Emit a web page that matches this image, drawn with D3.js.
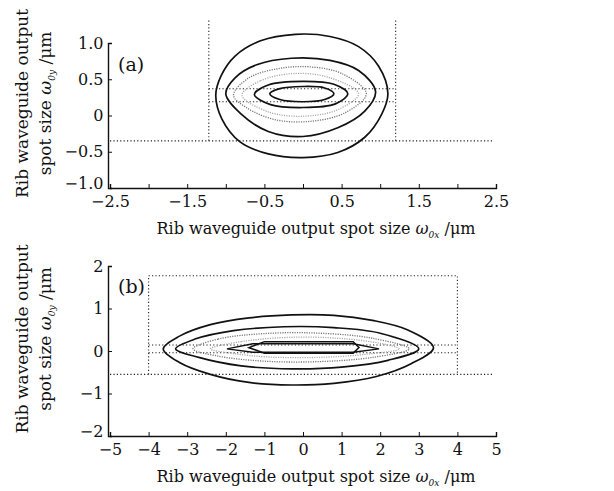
<!DOCTYPE html>
<html>
<head>
<meta charset="utf-8">
<script src="https://cdn.jsdelivr.net/npm/d3@7"></script>
<style>
body{margin:0;background:#fff;}
text{font-family:"DejaVu Serif",serif;fill:#111;}
</style>
</head>
<body>
<script>
// tick values
var xTicksA = [-2.5,-2,-1.5,-1,-0.5,0,0.5,1,1.5,2,2.5];
var xLabelsA = [-2.5,-1.5,-0.5,0.5,1.5,2.5];
var yTicksA = [-1,-0.5,0,0.5,1];
var xTicksB = [-5,-4,-3,-2,-1,0,1,2,3,4,5];
var yTicksB = [-2,-1,0,1,2];

// contour lines, panel (a)
var a1 = [[-1.13,0.28],[-1.06,0.55],[-0.88,0.82],[-0.55,1.03],[-0.1,1.12],[0.35,1.09],[0.72,0.95],[0.98,0.68],[1.10,0.30],[1.02,0.02],[0.80,-0.30],[0.45,-0.51],[0.0,-0.58],[-0.45,-0.53],[-0.82,-0.36],[-1.05,-0.05]];
var a2 = [[-1.0,0.3],[-0.88,0.52],[-0.6,0.7],[-0.15,0.79],[0.35,0.76],[0.72,0.62],[0.94,0.33],[0.8,0.06],[0.45,-0.17],[0.0,-0.29],[-0.45,-0.22],[-0.8,0.02]];
var a3 = [[-0.9,0.28],[-0.7,0.52],[-0.3,0.65],[0.1,0.67],[0.5,0.58],[0.82,0.3],[0.55,0.04],[0.1,-0.08],[-0.35,-0.06],[-0.72,0.1]];
var a4 = [[-0.79,0.28],[-0.55,0.48],[-0.1,0.58],[0.35,0.52],[0.72,0.3],[0.45,0.08],[0.0,-0.01],[-0.45,0.05]];
var a5 = [[-0.63,0.29],[-0.45,0.42],[0.0,0.47],[0.4,0.43],[0.58,0.3],[0.42,0.16],[0.0,0.11],[-0.42,0.15]];
var a6 = [[-0.43,0.3],[-0.3,0.37],[0.0,0.4],[0.28,0.38],[0.40,0.3],[0.28,0.22],[0.0,0.19],[-0.3,0.22]];

// contour lines, panel (b)
var b1 = [[-3.62,0.05],[-3.2,0.35],[-2.4,0.62],[-1.4,0.78],[-0.3,0.85],[0.8,0.84],[1.8,0.72],[2.7,0.5],[3.38,0.08],[2.8,-0.3],[1.9,-0.6],[0.8,-0.76],[-0.3,-0.8],[-1.4,-0.74],[-2.4,-0.55],[-3.2,-0.27]];
var b2 = [[-3.3,0.05],[-2.8,0.28],[-1.8,0.48],[-0.5,0.57],[0.8,0.55],[2.0,0.42],[3.0,0.05],[2.2,-0.22],[1.0,-0.38],[-0.3,-0.42],[-1.6,-0.35],[-2.7,-0.15]];
var b3 = [[-2.85,0.05],[-2.2,0.28],[-1.0,0.41],[0.4,0.42],[1.8,0.3],[2.75,0.05],[1.8,-0.15],[0.4,-0.25],[-1.0,-0.24],[-2.2,-0.12]];
var b4 = [[-2.4,0.05],[-1.6,0.22],[-0.4,0.32],[0.9,0.3],[2.0,0.18],[2.5,0.05],[1.6,-0.08],[0.4,-0.15],[-0.9,-0.14],[-1.8,-0.06]];
var b5 = [[-1.97,0.05],[-1.3,0.17],[1.3,0.17],[1.97,0.05],[1.3,-0.03],[-1.3,-0.03]];
var b6 = [[-1.4,0.08],[-1.0,0.22],[1.3,0.22],[1.45,0.08],[1.3,-0.05],[-1.0,-0.05]];

// dotted guide lines
var guidesA = [[[-1.22,1.31],[-1.22,-0.35]],[[1.2,1.31],[1.2,-0.35]],[[-2.5,-0.35],[2.45,-0.35]],[[-1.22,0.37],[1.2,0.37]],[[-1.22,0.19],[1.2,0.19]]];
var guidesB = [[[-4,-0.55],[-4,1.77],[4,1.77],[4,-0.55]],[[-5,-0.55],[4.9,-0.55]],[[-4,0.14],[4,0.14]],[[-4,-0.04],[4,-0.04]]];

var svg = d3.select("body").append("svg").attr("width",614).attr("height",491);

drawPanel = function(p){
	var x = d3.scaleLinear().domain(p.xd).range([110,496]);
	var y = d3.scaleLinear().domain(p.yd).range(p.yr);
	var g = svg.append("g");

	// guides
	var line = d3.line().x(function(d){return x(d[0]);}).y(function(d){return y(d[1]);});
	g.selectAll(".guide").data(p.guides).enter().append("path")
		.attr("d",line).attr("fill","none").attr("stroke","#222")
		.attr("stroke-width",1.1).attr("stroke-dasharray","1.2,2.2");

	// contours
	var cl = d3.line().x(function(d){return x(d[0]);}).y(function(d){return y(d[1]);});
	p.contours.forEach(function(c){
		cl.curve(c.curve || d3.curveCatmullRomClosed);
		g.append("path").attr("d",cl(c.pts)).attr("fill","none")
			.attr("stroke",c.col).attr("stroke-width",c.w)
			.attr("stroke-dasharray",c.dash || null);
	});

	// axes
	var xa = d3.axisBottom(x).tickValues(p.xt).tickSize(-4)
		.tickFormat(function(d){return p.xl.indexOf(d) >= 0 ? d3.format(p.xf)(d).replace("-","\u2212") : "";});
	var ya = d3.axisLeft(y).tickValues(p.yt).tickSize(-4)
		.tickFormat(function(d){return d3.format(p.yf)(d).replace("-","\u2212").replace(/^0\.0$/,"0");});
	var gx = g.append("g").attr("transform","translate(0,"+p.yr[0]+")").call(xa);
	var gy = g.append("g").attr("transform","translate("+(x.range()[0]-2)+",0)").call(ya);
	[gx,gy].forEach(function(a){
		a.select(".domain").attr("stroke","#111").attr("stroke-width",1.4);
		a.selectAll(".tick line").attr("stroke","#111").attr("stroke-width",1);
		a.selectAll("text").style("font-family","DejaVu Serif").style("font-size","16px").attr("fill","#111");
	});
	gx.selectAll("text").attr("dy","1.0em");
	gy.selectAll("text").attr("dx","-0.1em");
	// lowest y label sits just above the corner
	gy.selectAll("text").filter(function(d){return d == p.yd[0];}).attr("dy","0.05em");

	// panel tag
	g.append("text").attr("x",118).attr("y",p.tagY).style("font-size","19px").text(p.tag);

	// x title
	var xt = g.append("text").attr("x",316).attr("y",p.yr[0]+46).attr("text-anchor","middle").style("font-size","16px");
	xt.append("tspan").text("Rib waveguide output spot size ");
	xt.append("tspan").style("font-style","italic").text("\u03c9");
	xt.append("tspan").attr("dy",4).style("font-size","9px").style("font-style","italic").text("0x");
	xt.append("tspan").attr("dy",-4).text(" /\u03bcm");

	// y title, two lines
	var yc = (p.yr[0]+p.yr[1])/2 - 12;
	g.append("text").attr("transform","translate(28,"+yc+") rotate(-90)").attr("text-anchor","middle")
		.style("font-size","17px").text("Rib waveguide output");
	var yt = g.append("text").attr("transform","translate(51,"+yc+") rotate(-90)").attr("text-anchor","middle").style("font-size","17px");
	yt.append("tspan").text("spot size ");
	yt.append("tspan").style("font-style","italic").text("\u03c9");
	yt.append("tspan").attr("dy",4).style("font-size","9px").style("font-style","italic").text("0y");
	yt.append("tspan").attr("dy",-4).text(" /\u03bcm");
};

var solid = "#111", gray1 = "#777", gray2 = "#aaa";

drawPanel({xd:[-2.5,2.5], yd:[-1,1], yr:[188,43], xt:xTicksA, xl:xLabelsA, xf:".1f", yt:yTicksA, yf:".1f",
	guides:guidesA, tag:"(a)", tagY:71,
	contours:[
		{pts:a1,col:solid,w:1.7},
		{pts:a2,col:solid,w:1.7},
		{pts:a3,col:gray1,w:1.3,dash:"1.2,1.2"},
		{pts:a4,col:gray2,w:1.3,dash:"1.2,1.2"},
		{pts:a5,col:solid,w:1.7},
		{pts:a6,col:solid,w:1.7}
	]});

drawPanel({xd:[-5,5], yd:[-2,2], yr:[436,266], xt:xTicksB, xl:xTicksB, xf:"d", yt:yTicksB, yf:"d",
	guides:guidesB, tag:"(b)", tagY:293,
	contours:[
		{pts:b1,col:solid,w:1.7},
		{pts:b2,col:solid,w:1.6},
		{pts:b3,col:gray1,w:1.3,dash:"1.2,1.2"},
		{pts:b4,col:gray2,w:1.3,dash:"1.2,1.2"},
		{pts:b5,col:solid,w:1.5,curve:d3.curveLinearClosed},
		{pts:b6,col:solid,w:1.5,curve:d3.curveLinearClosed}
	]});
</script>
</body>
</html>
